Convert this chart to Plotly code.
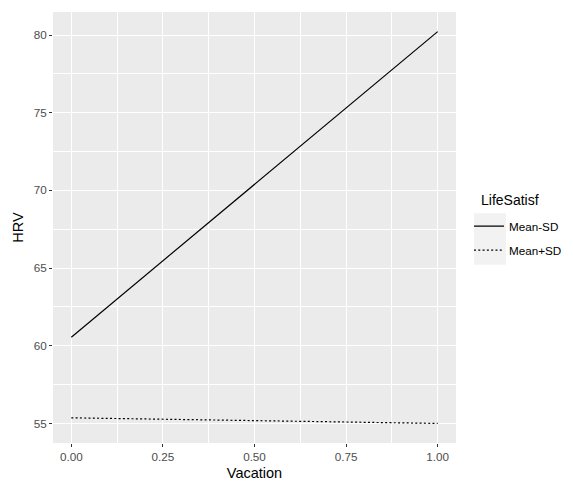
import plotly.graph_objects as go

vacation = [0.0, 1.0]
series_names = ["Mean-SD", "Mean+SD"]
hrv_mean_minus_sd = [60.55, 80.22]
hrv_mean_plus_sd = [55.36, 55.0]
x_ticks = [0.0, 0.25, 0.5, 0.75, 1.0]
x_tick_labels = ["0.00", "0.25", "0.50", "0.75", "1.00"]
y_ticks = [55, 60, 65, 70, 75, 80]
legend_title = "LifeSatisf"

FONT = "Liberation Sans, Arial, sans-serif"

fig = go.Figure()
fig.add_trace(go.Scatter(x=vacation, y=hrv_mean_minus_sd, mode="lines", name=series_names[0],
                         legendgroup="a",
                         line=dict(color="#000000", width=1.2, dash="solid")))
fig.add_trace(go.Scatter(x=vacation, y=hrv_mean_plus_sd, mode="lines", name=series_names[1],
                         legendgroup="b",
                         line=dict(color="#000000", width=1.2, dash="2px,2.3px")))

all_y = hrv_mean_minus_sd + hrv_mean_plus_sd
ymin, ymax = min(all_y), max(all_y)
pad = (ymax - ymin) * 0.05

axis_common = dict(
    showline=False, zeroline=False,
    gridcolor="#ffffff", gridwidth=1.1,
    ticks="outside", ticklen=3, tickcolor="#333333", tickwidth=1,
    tickfont=dict(family=FONT, size=11.7, color="#4d4d4d"),
    title_font=dict(family=FONT, size=14.5, color="#000000"),
)

fig.update_xaxes(range=[-0.05, 1.05], tickvals=x_ticks, ticktext=x_tick_labels,
                 title_text="Vacation", title_standoff=6,
                 minor=dict(dtick=0.125, tick0=0, showgrid=True, gridcolor="#ffffff", gridwidth=0.5, ticks=""),
                 **axis_common)
fig.update_yaxes(range=[ymin - pad, ymax + pad], tickvals=y_ticks,
                 title_text="HRV", title_standoff=6,
                 minor=dict(dtick=2.5, tick0=52.5, showgrid=True, gridcolor="#ffffff", gridwidth=0.5, ticks=""),
                 **axis_common)

# legend key background (ggplot-style grey95 key boxes)
fig.add_shape(type="rect", xref="paper", yref="paper",
              x0=1.045, x1=1.124, y0=0.4134, y1=0.5333,
              fillcolor="#f2f2f2", line=dict(width=0), layer="below")

fig.add_annotation(text=legend_title, xref="paper", yref="paper", x=1.0563, y=0.5641,
                   xanchor="left", yanchor="middle", showarrow=False,
                   font=dict(family=FONT, size=14, color="#000000"))

# page has an 8px body margin; compensate so the panel lands where the reference has it
fig.update_layout(
    width=565, height=473,
    margin=dict(l=45, r=117, t=4, b=38, autoexpand=False),
    plot_bgcolor="#ebebeb", paper_bgcolor="#ffffff",
    font=dict(family=FONT, color="#000000"),
    legend=dict(x=1.0322, y=0.537, xanchor="left", yanchor="top",
                font=dict(size=11.7, color="#000000"),
                bgcolor="rgba(0,0,0,0)", tracegroupgap=5, itemwidth=30),
    showlegend=True,
)

fig.write_html("out.html")
